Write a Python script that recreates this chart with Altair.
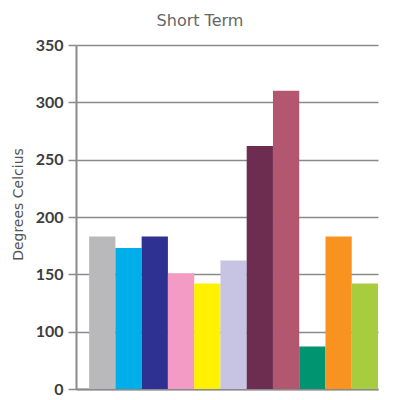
import altair as alt
import pandas as pd

categories = ["c1", "c2", "c3", "c4", "c5", "c6", "c7", "c8", "c9", "c10", "c11"]
values = [183, 173, 183, 151, 142, 162, 262, 310, 87, 183, 142]
colors = ["#b9b9bb", "#00aeea", "#2e3192", "#f39ac5", "#fff100", "#c6c4e2",
          "#6c2d50", "#b3566f", "#009471", "#f7931e", "#a7cd3f"]
tick_values = [50, 100, 150, 200, 250, 300, 350]

df = pd.DataFrame({"cat": categories, "val": values, "col": colors})

chart = alt.Chart(df).mark_bar(clip=True).encode(
    x=alt.X("cat:N", sort=None,
            scale=alt.Scale(paddingInner=0, paddingOuter=0.25, align=1),
            axis=alt.Axis(labels=False, ticks=False, title=None, grid=False,
                          domainColor="#8a8a8a", domainWidth=2)),
    y=alt.Y("val:Q",
            scale=alt.Scale(domain=[50, 350], nice=False, zero=False),
            axis=alt.Axis(values=tick_values,
                          labelExpr="datum.value == 50 ? '0' : datum.label",
                          title="Degrees Celcius",
                          titleFont="DejaVu Sans", titleFontSize=14, titleFontWeight="normal",
                          titleColor="#555555", titleAngle=270, titleAlign="center",
                          titleBaseline="middle", titleX=-58, titleY=159,
                          labelFont="Lato", labelFontSize=16, labelFontWeight="bold",
                          labelColor="#3d3d3d", labelPadding=5,
                          tickSize=8, tickColor="#8a8a8a", tickWidth=1.5,
                          domainColor="#8a8a8a", domainWidth=2,
                          grid=True, gridColor="#8a8a8a", gridWidth=1.5)),
    color=alt.Color("col:N", scale=None),
).properties(
    width=302, height=344,
    title=alt.TitleParams("Short Term", font="DejaVu Sans", fontSize=16, fontWeight="normal",
                          color="#666666", anchor="middle", dx=-27, offset=8),
    autosize=alt.AutoSizeParams(type="none"),
    padding={"left": 68, "top": 37, "right": 14, "bottom": 12},
).configure_view(stroke=None)

chart.save("out.html", embed_options={"renderer": "svg", "actions": False})
